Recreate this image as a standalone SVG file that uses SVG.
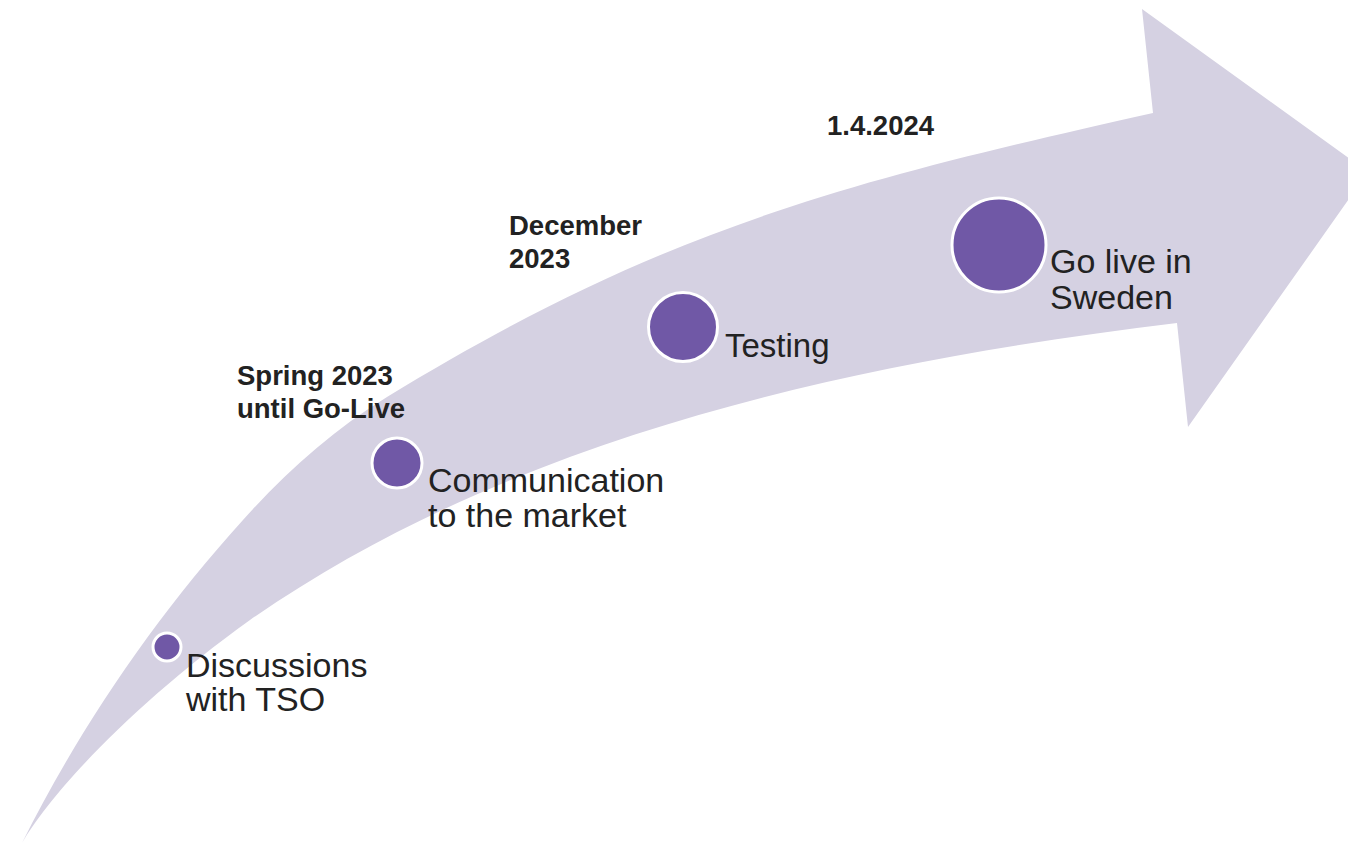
<svg xmlns="http://www.w3.org/2000/svg" width="1348" height="844" viewBox="0 0 1348 844">
  <style>
    .band { fill: #D5D1E2; }
    .dot { fill: #7058A6; stroke: #FFFFFF; stroke-width: 3; }
    .lbl { font-family: "Liberation Sans", Arial, sans-serif; font-size: 34px; fill: #222222; }
    .date { font-family: "Liberation Sans", Arial, sans-serif; font-size: 27.5px; font-weight: bold; fill: #222222; }
  </style>
  <rect width="1348" height="844" fill="#FFFFFF"/>
  <g id="connectors">
    <path class="band" d="M22,843 C80,727 156,616 243,520 C285,473 333,430 387,397 C660,230 841,183 1153,113 L1142,9 L1368,172 L1188,427 L1177,323 C855,362 516,435 250,620 C137,701 52,791 22,843 Z"/>
  </g>
  <g id="node-discussions">
    <circle class="dot" cx="167" cy="647" r="14"/>
    <text class="lbl" x="186" y="677">Discussions</text>
    <text class="lbl" x="186" y="711">with TSO</text>
  </g>
  <g id="node-communication">
    <text class="date" x="237" y="385">Spring 2023</text>
    <text class="date" x="237" y="418">until Go-Live</text>
    <circle class="dot" cx="397" cy="463" r="25"/>
    <text class="lbl" x="428" y="492">Communication</text>
    <text class="lbl" x="428" y="527">to the market</text>
  </g>
  <g id="node-testing">
    <text class="date" x="509" y="235">December</text>
    <text class="date" x="509" y="268">2023</text>
    <circle class="dot" cx="683" cy="327" r="34.5"/>
    <text class="lbl" x="725" y="357" style="font-size:33px">Testing</text>
  </g>
  <g id="node-golive">
    <text class="date" x="827" y="135">1.4.2024</text>
    <circle class="dot" cx="999" cy="245" r="47"/>
    <text class="lbl" x="1050" y="273">Go live in</text>
    <text class="lbl" x="1050" y="309">Sweden</text>
  </g>
</svg>
